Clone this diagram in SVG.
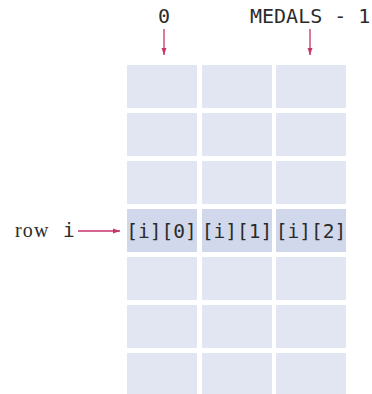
<svg xmlns="http://www.w3.org/2000/svg" width="372" height="394" viewBox="0 0 372 394">
<defs>
<style>
.cell{fill:#e2e6f3}
.hl{fill:#d2d8ec}
.mono{font-family:"DejaVu Sans Mono","Liberation Mono",monospace;fill:#2b2b2b}
.serif{font-family:"Liberation Serif","DejaVu Serif",serif;fill:#2b2b2b}
.arr{stroke:#c8336a;stroke-width:1.3;fill:none}
</style>
<marker id="ah" viewBox="0 0 10 10" refX="10" refY="5" markerWidth="7" markerHeight="7" markerUnits="userSpaceOnUse" orient="auto">
<path d="M0,1.5 L10,5 L0,8.5 Z" fill="#c8336a"/>
</marker>
</defs>
<rect width="372" height="394" fill="#fff"/>
<g id="grid">
<rect class="cell" x="127" y="65" width="70" height="43"/><rect class="cell" x="202" y="65" width="70" height="43"/><rect class="cell" x="276" y="65" width="70" height="43"/>
<rect class="cell" x="127" y="113" width="70" height="43"/><rect class="cell" x="202" y="113" width="70" height="43"/><rect class="cell" x="276" y="113" width="70" height="43"/>
<rect class="cell" x="127" y="161" width="70" height="43"/><rect class="cell" x="202" y="161" width="70" height="43"/><rect class="cell" x="276" y="161" width="70" height="43"/>
<rect class="cell" x="127" y="257" width="70" height="43"/><rect class="cell" x="202" y="257" width="70" height="43"/><rect class="cell" x="276" y="257" width="70" height="43"/>
<rect class="cell" x="127" y="305" width="70" height="43"/><rect class="cell" x="202" y="305" width="70" height="43"/><rect class="cell" x="276" y="305" width="70" height="43"/>
<rect class="cell" x="127" y="353" width="70" height="41"/><rect class="cell" x="202" y="353" width="70" height="41"/><rect class="cell" x="276" y="353" width="70" height="41"/>
</g>
<g id="row-i">
<rect class="hl" x="127" y="209" width="70" height="43"/><rect class="hl" x="202" y="209" width="70" height="43"/><rect class="hl" x="276" y="209" width="70" height="43"/>
<text class="mono" x="161.5" y="238" font-size="19.5" text-anchor="middle">[i][0]</text>
<text class="mono" x="237" y="238" font-size="19.5" text-anchor="middle">[i][1]</text>
<text class="mono" x="311" y="238" font-size="19.5" text-anchor="middle">[i][2]</text>
</g>
<g id="label-0"><text class="mono" x="164" y="23" font-size="20" text-anchor="middle">0</text></g>
<g id="label-medals"><text class="mono" x="250" y="23" font-size="20">MEDALS - 1</text></g>
<g id="label-row"><text class="serif" x="15" y="237" font-size="20" letter-spacing="1.2">row</text><text class="mono" x="63" y="237" font-size="19.5">i</text></g>
<g id="connectors">
<line class="arr" x1="78" y1="231" x2="120" y2="231" marker-end="url(#ah)"/>
<line class="arr" x1="164" y1="29" x2="164" y2="55" marker-end="url(#ah)"/>
<line class="arr" x1="310" y1="29" x2="310" y2="55" marker-end="url(#ah)"/>
</g>
</svg>
